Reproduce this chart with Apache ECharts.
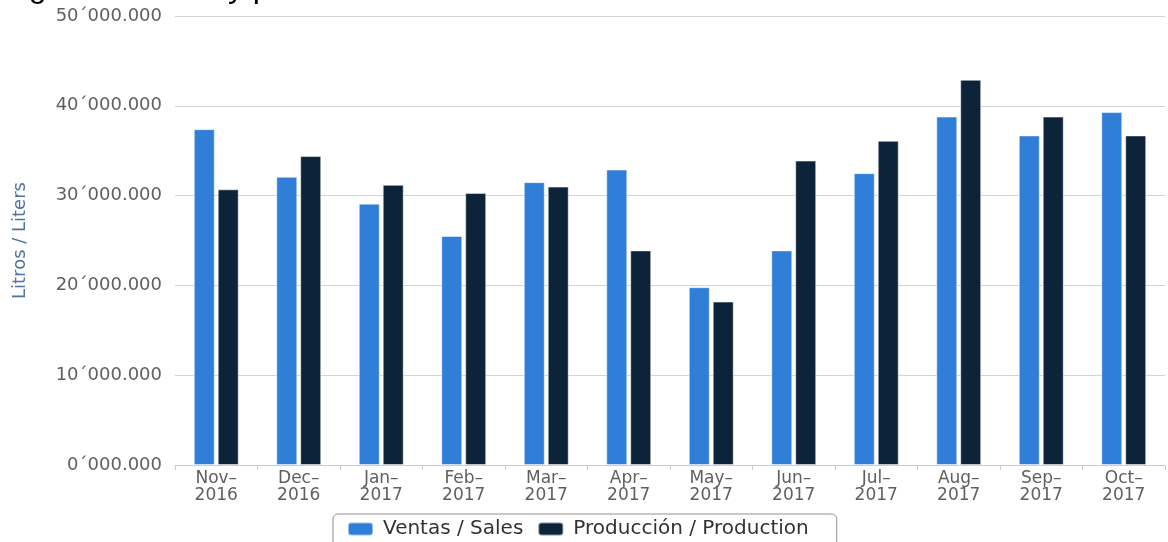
<!DOCTYPE html>
<html>
<head>
<meta charset="utf-8">
<script src="https://cdn.jsdelivr.net/npm/echarts@6/dist/echarts.min.js"></script>
<style>
html,body{margin:0;padding:0;background:#fff;}
#chart{width:1168px;height:542px;}
</style>
</head>
<body>
<div id="chart"></div>
<script>
var meses = ['Nov', 'Dec', 'Jan', 'Feb', 'Mar', 'Apr', 'May', 'Jun', 'Jul', 'Aug', 'Sep', 'Oct']; //meses
var anios = ['2016', '2016', '2017', '2017', '2017', '2017', '2017', '2017', '2017', '2017', '2017', '2017']; //años
var ventas = [37400000, 32100000, 29100000, 25500000, 31500000, 32900000, 19800000, 23900000, 32500000, 38800000, 36700000, 39300000]; //ventas / sales
var produccion = [30700000, 34400000, 31200000, 30300000, 31000000, 23900000, 18200000, 33900000, 36100000, 42900000, 38800000, 36700000]; //producción
var nombres = ['Ventas / Sales', 'Producción / Production'];

var categorias = meses.map(function (m, i) { return m + '–\n' + anios[i]; });

function formatoLitros(v) { //50´000.000
	var s = String(Math.round(v));
	while (s.length < 7) s = '0' + s;
	var mill = s.slice(0, s.length - 6);
	var rest = s.slice(s.length - 6);
	return mill + '´' + rest.slice(0, 3) + '.' + rest.slice(3);
}

var chart = echarts.init(document.getElementById('chart'));
chart.setOption({
	animation: false,
	color: ['#2f7ed8', '#0d233a'],
	title: {
		text: 'Figura 1. Venta y producción de etanol en Colombia',
		left: 2,
		top: -28,
		padding: 0,
		textStyle: { fontFamily: 'Liberation Sans', fontSize: 32, fontWeight: 'normal', color: '#000' }
	},
	grid: { left: 175, right: 3, top: 16, bottom: 77, containLabel: false },
	legend: {
		data: nombres,
		left: 333,
		top: 514,
		padding: [5, 28, 12, 14],
		itemWidth: 25,
		itemHeight: 13,
		itemGap: 14,
		borderColor: '#909090',
		borderWidth: 1,
		borderRadius: 5,
		icon: 'roundRect',
		textStyle: { fontFamily: 'DejaVu Sans', fontSize: 20, color: '#333', padding: [0, 0, 0, 5] }
	},
	xAxis: {
		type: 'category',
		data: categorias,
		axisLine: { lineStyle: { color: '#c0d0e0', width: 1 } },
		axisTick: { show: true, length: 5, lineStyle: { color: '#c0d0e0' } },
		axisLabel: { fontFamily: 'DejaVu Sans', fontSize: 17, color: '#606060', lineHeight: 17, margin: 5, interval: 0 },
		splitLine: { show: false }
	},
	yAxis: {
		type: 'value',
		min: 0,
		max: 50000000,
		interval: 10000000,
		name: 'Litros / Liters',
		nameLocation: 'middle',
		nameRotate: 90,
		nameGap: 146,
		nameTextStyle: { fontFamily: 'DejaVu Sans', fontSize: 18, color: '#4d759e' },
		axisLine: { show: false },
		axisTick: { show: false },
		axisLabel: { fontFamily: 'DejaVu Sans', fontSize: 18, color: '#606060', margin: 13, formatter: formatoLitros },
		splitLine: { lineStyle: { color: '#d4d4d4', width: 1 } }
	},
	series: [
		{ name: nombres[0], type: 'bar', data: ventas, barWidth: 21, barGap: '14%',
		  itemStyle: { borderColor: 'rgba(255,255,255,0.5)', borderWidth: 1 } },
		{ name: nombres[1], type: 'bar', data: produccion, barWidth: 21, barGap: '14%',
		  itemStyle: { borderColor: 'rgba(255,255,255,0.5)', borderWidth: 1 } }
	]
});
</script>
</body>
</html>
